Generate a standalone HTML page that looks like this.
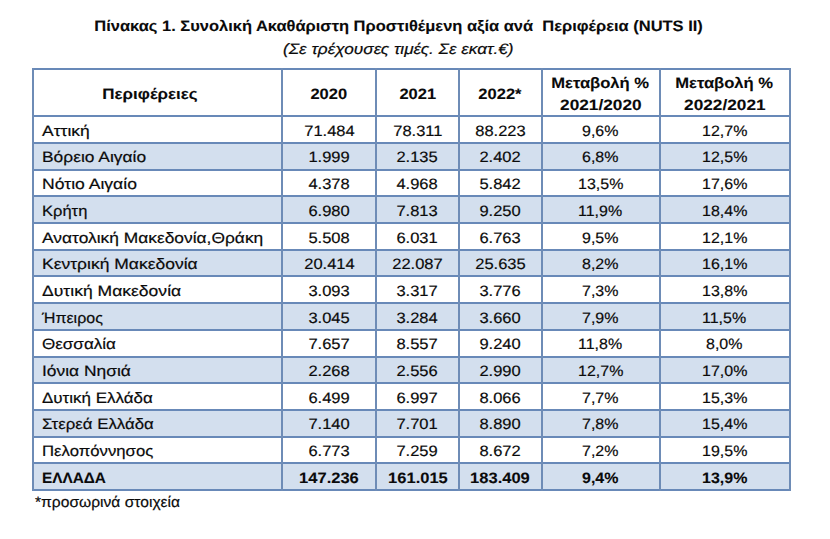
<!DOCTYPE html>
<html><head><meta charset="utf-8"><style>
html,body{margin:0;padding:0;background:#fff;width:830px;height:539px;overflow:hidden;position:relative}
body{font-family:"Liberation Sans",sans-serif;color:#0a0a0a;font-size:16px;line-height:20px;text-rendering:geometricPrecision}
.f{position:absolute;background:#d3dfee}
.h{position:absolute;height:2px;background:#6889b8}
.v{position:absolute;width:2px;background:#6e8cb6}
.t{position:absolute;white-space:pre;height:20px}
.c{position:absolute;width:800px;text-align:center;white-space:pre;height:20px}
.c span,.t span{display:inline-block}
.c span{transform-origin:50% 15px}
.t span{transform-origin:0 15px}
.b{font-weight:bold}
.t span,.c span{-webkit-text-stroke:0.2px #0a0a0a}
.b span{-webkit-text-stroke:0.1px #0a0a0a}
.i{font-style:italic}
</style></head><body>

<div class="f" style="left:33px;top:144px;width:757px;height:25px"></div>
<div class="f" style="left:33px;top:197px;width:757px;height:25px"></div>
<div class="f" style="left:33px;top:251px;width:757px;height:24px"></div>
<div class="f" style="left:33px;top:304px;width:757px;height:25px"></div>
<div class="f" style="left:33px;top:358px;width:757px;height:24px"></div>
<div class="f" style="left:33px;top:411px;width:757px;height:25px"></div>
<div class="f" style="left:33px;top:464px;width:757px;height:25px"></div>
<div class="h" style="left:32px;top:68px;width:759px"></div>
<div class="h" style="left:32px;top:115px;width:759px"></div>
<div class="h" style="left:32px;top:142px;width:759px"></div>
<div class="h" style="left:32px;top:169px;width:759px"></div>
<div class="h" style="left:32px;top:195px;width:759px"></div>
<div class="h" style="left:32px;top:222px;width:759px"></div>
<div class="h" style="left:32px;top:249px;width:759px"></div>
<div class="h" style="left:32px;top:275px;width:759px"></div>
<div class="h" style="left:32px;top:302px;width:759px"></div>
<div class="h" style="left:32px;top:329px;width:759px"></div>
<div class="h" style="left:32px;top:356px;width:759px"></div>
<div class="h" style="left:32px;top:382px;width:759px"></div>
<div class="h" style="left:32px;top:409px;width:759px"></div>
<div class="h" style="left:32px;top:436px;width:759px"></div>
<div class="h" style="left:32px;top:462px;width:759px"></div>
<div class="h" style="left:32px;top:489px;width:759px"></div>
<div class="v" style="left:32px;top:68px;height:423px"></div>
<div class="v" style="left:281px;top:68px;height:423px"></div>
<div class="v" style="left:375px;top:68px;height:423px"></div>
<div class="v" style="left:458px;top:68px;height:423px"></div>
<div class="v" style="left:541px;top:68px;height:423px"></div>
<div class="v" style="left:659px;top:68px;height:423px"></div>
<div class="v" style="left:789px;top:68px;height:423px"></div>
<div class="c b" style="left:-1.80px;top:16.70px"><span style="transform:scale(1.0294,0.94)">Πίνακας 1. Συνολική Ακαθάριστη Προστιθέμενη αξία ανά  Περιφέρεια (NUTS II)</span></div>
<div class="c i" style="left:-1.80px;top:40.00px"><span style="transform:scale(1.0744,0.94)">(Σε τρέχουσες τιμές. Σε εκατ.€)</span></div>
<div class="c b" style="left:-249.90px;top:84.60px"><span style="transform:scale(1.0594,0.94)">Περιφέρειες</span></div>
<div class="c b" style="left:-71.00px;top:84.60px"><span style="transform:scale(1.0312,0.94)">2020</span></div>
<div class="c b" style="left:17.50px;top:84.60px"><span style="transform:scale(1.0312,0.94)">2021</span></div>
<div class="c b" style="left:100.00px;top:84.60px"><span style="transform:scale(1.0312,0.94)">2022*</span></div>
<div class="c b" style="left:200.50px;top:74.10px"><span style="transform:scale(1.0378,0.94)">Μεταβολή %</span></div>
<div class="c b" style="left:200.50px;top:95.90px"><span style="transform:scale(1.0772,0.94)">2021/2020</span></div>
<div class="c b" style="left:324.50px;top:74.10px"><span style="transform:scale(1.0378,0.94)">Μεταβολή %</span></div>
<div class="c b" style="left:324.50px;top:95.90px"><span style="transform:scale(1.0772,0.94)">2022/2021</span></div>
<div class="t " style="left:42px;top:121.80px"><span style="transform:scale(1.0930,0.94)">Αττική</span></div>
<div class="c " style="left:-71.00px;top:121.80px"><span style="transform:scale(1.0312,0.94)">71.484</span></div>
<div class="c " style="left:17.50px;top:121.80px"><span style="transform:scale(1.0312,0.94)">78.311</span></div>
<div class="c " style="left:100.00px;top:121.80px"><span style="transform:scale(1.0312,0.94)">88.223</span></div>
<div class="c " style="left:200.50px;top:121.80px"><span style="transform:scale(0.9984,0.94)">9,6%</span></div>
<div class="c " style="left:324.50px;top:121.80px"><span style="transform:scale(0.9984,0.94)">12,7%</span></div>
<div class="t " style="left:42px;top:148.49px"><span style="transform:scale(1.0874,0.94)">Βόρειο Αιγαίο</span></div>
<div class="c " style="left:-71.00px;top:148.49px"><span style="transform:scale(1.0312,0.94)">1.999</span></div>
<div class="c " style="left:17.50px;top:148.49px"><span style="transform:scale(1.0312,0.94)">2.135</span></div>
<div class="c " style="left:100.00px;top:148.49px"><span style="transform:scale(1.0312,0.94)">2.402</span></div>
<div class="c " style="left:200.50px;top:148.49px"><span style="transform:scale(0.9984,0.94)">6,8%</span></div>
<div class="c " style="left:324.50px;top:148.49px"><span style="transform:scale(0.9984,0.94)">12,5%</span></div>
<div class="t " style="left:42px;top:175.18px"><span style="transform:scale(1.0977,0.94)">Νότιο Αιγαίο</span></div>
<div class="c " style="left:-71.00px;top:175.18px"><span style="transform:scale(1.0312,0.94)">4.378</span></div>
<div class="c " style="left:17.50px;top:175.18px"><span style="transform:scale(1.0312,0.94)">4.968</span></div>
<div class="c " style="left:100.00px;top:175.18px"><span style="transform:scale(1.0312,0.94)">5.842</span></div>
<div class="c " style="left:200.50px;top:175.18px"><span style="transform:scale(0.9984,0.94)">13,5%</span></div>
<div class="c " style="left:324.50px;top:175.18px"><span style="transform:scale(0.9984,0.94)">17,6%</span></div>
<div class="t " style="left:42px;top:201.87px"><span style="transform:scale(1.0326,0.94)">Κρήτη</span></div>
<div class="c " style="left:-71.00px;top:201.87px"><span style="transform:scale(1.0312,0.94)">6.980</span></div>
<div class="c " style="left:17.50px;top:201.87px"><span style="transform:scale(1.0312,0.94)">7.813</span></div>
<div class="c " style="left:100.00px;top:201.87px"><span style="transform:scale(1.0312,0.94)">9.250</span></div>
<div class="c " style="left:200.50px;top:201.87px"><span style="transform:scale(0.9984,0.94)">11,9%</span></div>
<div class="c " style="left:324.50px;top:201.87px"><span style="transform:scale(0.9984,0.94)">18,4%</span></div>
<div class="t " style="left:42px;top:228.56px"><span style="transform:scale(1.0862,0.94)">Ανατολική Μακεδονία,Θράκη</span></div>
<div class="c " style="left:-71.00px;top:228.56px"><span style="transform:scale(1.0312,0.94)">5.508</span></div>
<div class="c " style="left:17.50px;top:228.56px"><span style="transform:scale(1.0312,0.94)">6.031</span></div>
<div class="c " style="left:100.00px;top:228.56px"><span style="transform:scale(1.0312,0.94)">6.763</span></div>
<div class="c " style="left:200.50px;top:228.56px"><span style="transform:scale(0.9984,0.94)">9,5%</span></div>
<div class="c " style="left:324.50px;top:228.56px"><span style="transform:scale(0.9984,0.94)">12,1%</span></div>
<div class="t " style="left:42px;top:255.25px"><span style="transform:scale(1.0930,0.94)">Κεντρική Μακεδονία</span></div>
<div class="c " style="left:-71.00px;top:255.25px"><span style="transform:scale(1.0312,0.94)">20.414</span></div>
<div class="c " style="left:17.50px;top:255.25px"><span style="transform:scale(1.0312,0.94)">22.087</span></div>
<div class="c " style="left:100.00px;top:255.25px"><span style="transform:scale(1.0312,0.94)">25.635</span></div>
<div class="c " style="left:200.50px;top:255.25px"><span style="transform:scale(0.9984,0.94)">8,2%</span></div>
<div class="c " style="left:324.50px;top:255.25px"><span style="transform:scale(0.9984,0.94)">16,1%</span></div>
<div class="t " style="left:42px;top:281.94px"><span style="transform:scale(1.0961,0.94)">Δυτική Μακεδονία</span></div>
<div class="c " style="left:-71.00px;top:281.94px"><span style="transform:scale(1.0312,0.94)">3.093</span></div>
<div class="c " style="left:17.50px;top:281.94px"><span style="transform:scale(1.0312,0.94)">3.317</span></div>
<div class="c " style="left:100.00px;top:281.94px"><span style="transform:scale(1.0312,0.94)">3.776</span></div>
<div class="c " style="left:200.50px;top:281.94px"><span style="transform:scale(0.9984,0.94)">7,3%</span></div>
<div class="c " style="left:324.50px;top:281.94px"><span style="transform:scale(0.9984,0.94)">13,8%</span></div>
<div class="t " style="left:42px;top:308.63px"><span style="transform:scale(1.0000,0.94)">Ήπειρος</span></div>
<div class="c " style="left:-71.00px;top:308.63px"><span style="transform:scale(1.0312,0.94)">3.045</span></div>
<div class="c " style="left:17.50px;top:308.63px"><span style="transform:scale(1.0312,0.94)">3.284</span></div>
<div class="c " style="left:100.00px;top:308.63px"><span style="transform:scale(1.0312,0.94)">3.660</span></div>
<div class="c " style="left:200.50px;top:308.63px"><span style="transform:scale(0.9984,0.94)">7,9%</span></div>
<div class="c " style="left:324.50px;top:308.63px"><span style="transform:scale(0.9984,0.94)">11,5%</span></div>
<div class="t " style="left:42px;top:335.32px"><span style="transform:scale(1.0652,0.94)">Θεσσαλία</span></div>
<div class="c " style="left:-71.00px;top:335.32px"><span style="transform:scale(1.0312,0.94)">7.657</span></div>
<div class="c " style="left:17.50px;top:335.32px"><span style="transform:scale(1.0312,0.94)">8.557</span></div>
<div class="c " style="left:100.00px;top:335.32px"><span style="transform:scale(1.0312,0.94)">9.240</span></div>
<div class="c " style="left:200.50px;top:335.32px"><span style="transform:scale(0.9984,0.94)">11,8%</span></div>
<div class="c " style="left:324.50px;top:335.32px"><span style="transform:scale(0.9984,0.94)">8,0%</span></div>
<div class="t " style="left:42px;top:362.01px"><span style="transform:scale(1.0877,0.94)">Ιόνια Νησιά</span></div>
<div class="c " style="left:-71.00px;top:362.01px"><span style="transform:scale(1.0312,0.94)">2.268</span></div>
<div class="c " style="left:17.50px;top:362.01px"><span style="transform:scale(1.0312,0.94)">2.556</span></div>
<div class="c " style="left:100.00px;top:362.01px"><span style="transform:scale(1.0312,0.94)">2.990</span></div>
<div class="c " style="left:200.50px;top:362.01px"><span style="transform:scale(0.9984,0.94)">12,7%</span></div>
<div class="c " style="left:324.50px;top:362.01px"><span style="transform:scale(0.9984,0.94)">17,0%</span></div>
<div class="t " style="left:42px;top:388.70px"><span style="transform:scale(1.0606,0.94)">Δυτική Ελλάδα</span></div>
<div class="c " style="left:-71.00px;top:388.70px"><span style="transform:scale(1.0312,0.94)">6.499</span></div>
<div class="c " style="left:17.50px;top:388.70px"><span style="transform:scale(1.0312,0.94)">6.997</span></div>
<div class="c " style="left:100.00px;top:388.70px"><span style="transform:scale(1.0312,0.94)">8.066</span></div>
<div class="c " style="left:200.50px;top:388.70px"><span style="transform:scale(0.9984,0.94)">7,7%</span></div>
<div class="c " style="left:324.50px;top:388.70px"><span style="transform:scale(0.9984,0.94)">15,3%</span></div>
<div class="t " style="left:42px;top:415.39px"><span style="transform:scale(1.0509,0.94)">Στερεά Ελλάδα</span></div>
<div class="c " style="left:-71.00px;top:415.39px"><span style="transform:scale(1.0312,0.94)">7.140</span></div>
<div class="c " style="left:17.50px;top:415.39px"><span style="transform:scale(1.0312,0.94)">7.701</span></div>
<div class="c " style="left:100.00px;top:415.39px"><span style="transform:scale(1.0312,0.94)">8.890</span></div>
<div class="c " style="left:200.50px;top:415.39px"><span style="transform:scale(0.9984,0.94)">7,8%</span></div>
<div class="c " style="left:324.50px;top:415.39px"><span style="transform:scale(0.9984,0.94)">15,4%</span></div>
<div class="t " style="left:42px;top:442.08px"><span style="transform:scale(1.0453,0.94)">Πελοπόννησος</span></div>
<div class="c " style="left:-71.00px;top:442.08px"><span style="transform:scale(1.0312,0.94)">6.773</span></div>
<div class="c " style="left:17.50px;top:442.08px"><span style="transform:scale(1.0312,0.94)">7.259</span></div>
<div class="c " style="left:100.00px;top:442.08px"><span style="transform:scale(1.0312,0.94)">8.672</span></div>
<div class="c " style="left:200.50px;top:442.08px"><span style="transform:scale(0.9984,0.94)">7,2%</span></div>
<div class="c " style="left:324.50px;top:442.08px"><span style="transform:scale(0.9984,0.94)">19,5%</span></div>
<div class="t b" style="left:42px;top:468.77px"><span style="transform:scale(0.9591,0.94)">ΕΛΛΑΔΑ</span></div>
<div class="c b" style="left:-71.00px;top:468.77px"><span style="transform:scale(1.0312,0.94)">147.236</span></div>
<div class="c b" style="left:17.50px;top:468.77px"><span style="transform:scale(1.0312,0.94)">161.015</span></div>
<div class="c b" style="left:100.00px;top:468.77px"><span style="transform:scale(1.0312,0.94)">183.409</span></div>
<div class="c b" style="left:200.50px;top:468.77px"><span style="transform:scale(0.9984,0.94)">9,4%</span></div>
<div class="c b" style="left:324.50px;top:468.77px"><span style="transform:scale(0.9984,0.94)">13,9%</span></div>
<div class="t " style="left:34.6px;top:492.70px"><span style="transform:scale(0.9750,0.94)">*προσωρινά στοιχεία</span></div>
</body></html>
